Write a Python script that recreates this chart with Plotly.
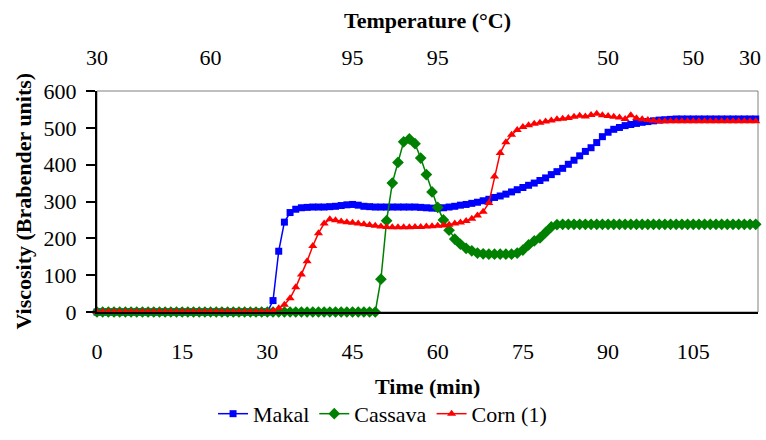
import plotly.graph_objects as go

# Time axis (min), one reading per minute
time_min = list(range(0, 117))

makal = [0, 0, 0, 0, 0, 0, 0, 0, 0, 0, 0, 0, 0, 0, 0, 0, 0, 0, 0, 0,
         0, 0, 0, 0, 0, 0, 0, 0, 0, 0, 0,
         31, 165, 244, 270, 279, 283, 284, 285, 285, 285, 286, 287, 289, 291, 292,
         290, 287, 286, 285, 285, 285, 285, 285, 285, 285, 285, 284, 283, 282, 282,
         283, 285, 287, 290, 292, 295, 298, 302, 306, 311, 315, 320, 326, 332, 338,
         344, 350, 357, 364, 373, 381, 390, 401, 412, 424, 436, 446, 460, 476, 488,
         496, 501, 506, 509, 512, 515, 517, 519, 521, 522, 523,
         524, 524, 524, 524, 524, 524, 524, 524, 524, 524, 524, 524, 524, 524, 524]

cassava = [0, 0, 0, 0, 0, 0, 0, 0, 0, 0, 0, 0, 0, 0, 0, 0, 0, 0, 0, 0,
           0, 0, 0, 0, 0, 0, 0, 0, 0, 0, 0, 0, 0, 0, 0, 0, 0, 0, 0, 0,
           0, 0, 0, 0, 0, 0, 0, 0, 0, 0,
           89, 248, 350, 406, 462, 470, 457, 418, 373, 326, 284, 250, 222, 198, 184,
           173, 166, 160, 158, 157, 157, 157, 157, 157, 160, 168, 182, 193, 201, 216,
           231, 237,
           238, 238, 238, 238, 238, 238, 238, 238, 238, 238, 238, 238, 238, 238, 238,
           238, 238, 238, 238, 238, 238, 238, 238, 238, 238, 238, 238, 238, 238, 238,
           238, 238, 238, 238, 238]

corn = [0, 0, 0, 0, 0, 0, 0, 0, 0, 0, 0, 0, 0, 0, 0, 0, 0, 0, 0, 0,
        0, 0, 0, 0, 0, 0, 0, 0, 0, 0, 0,
        3, 10, 20, 37, 67, 102, 138, 179, 214, 240, 252, 249, 246, 244, 242,
        240, 238, 236, 234, 232, 231, 230, 230, 230, 230, 231, 231, 232, 233, 234,
        235, 237, 240, 243, 247, 253, 262, 272, 296, 368, 432, 461, 481, 494, 502,
        507, 511, 514, 517, 520, 523, 525, 527, 530, 533, 531, 535, 538, 534, 532,
        530, 528, 524, 534, 526, 523, 521, 519,
        518, 518, 518, 518, 518, 518, 518, 518, 518, 518, 518, 518, 518, 518, 518,
        518, 518, 518]

time_ticks = [0, 15, 30, 45, 60, 75, 90, 105]
temp_tick_pos = [0, 20, 45, 60, 90, 105, 115]
temp_tick_text = ["30", "60", "95", "95", "50", "50", "30"]
visc_ticks = [0, 100, 200, 300, 400, 500, 600]

FONT = "Liberation Serif, Times New Roman, serif"
FS = 22

fig = go.Figure()
fig.add_trace(go.Scatter(x=time_min, y=makal, name="Makal", mode="lines+markers",
                         line=dict(color="#0000FF", width=1.5),
                         marker=dict(symbol="square", size=7, color="#0000FF"),
                         cliponaxis=False))
fig.add_trace(go.Scatter(x=time_min, y=cassava, name="Cassava", mode="lines+markers",
                         line=dict(color="#008000", width=1.5),
                         marker=dict(symbol="diamond", size=9, color="#008000"),
                         cliponaxis=False))
fig.add_trace(go.Scatter(x=time_min, y=corn, name="Corn (1)", mode="lines+markers",
                         line=dict(color="#FF0000", width=1.5),
                         marker=dict(symbol="triangle-up", size=8, color="#FF0000"),
                         cliponaxis=False))
# invisible trace to activate the top axis
fig.add_trace(go.Scatter(x=[0], y=[0], xaxis="x2", showlegend=False,
                         mode="markers", marker=dict(opacity=0), hoverinfo="skip"))

fig.update_layout(
    width=766, height=440,
    margin=dict(l=97, r=5, t=91, b=117),
    paper_bgcolor="white", plot_bgcolor="white",
    font=dict(family=FONT, size=FS, color="black"),
    showlegend=True,
    legend=dict(orientation="h", x=0.432, xanchor="center", y=-0.461, yanchor="middle",
                font=dict(family=FONT, size=FS), itemwidth=30, tracegroupgap=0,
                bgcolor="rgba(0,0,0,0)"),
    xaxis=dict(range=[0, 116.4], tickvals=time_ticks, ticks="", showgrid=False,
               zeroline=False, showline=True, linecolor="black", linewidth=2,
               ticklabelstandoff=19, tickfont=dict(size=FS)),
    xaxis2=dict(range=[0, 116.4], overlaying="x", side="top", tickvals=temp_tick_pos,
                ticktext=temp_tick_text, ticks="", showgrid=False, zeroline=False,
                showline=False, ticklabelstandoff=21, tickfont=dict(size=FS)),
    yaxis=dict(range=[0, 600], tickvals=visc_ticks, ticks="outside", ticklen=9,
               tickcolor="black", tickwidth=1.5, showgrid=False, zeroline=False,
               showline=True, linecolor="black", linewidth=2, ticklabelstandoff=5,
               tickfont=dict(size=FS)),
    shapes=[dict(type="rect", xref="paper", yref="paper", x0=0, x1=1, y0=0, y1=1,
                 line=dict(color="#808080", width=1), layer="below")],
    annotations=[
        dict(text="<b>Temperature (°C)</b>", xref="paper", yref="paper", x=0.5, y=1,
             yshift=71, xanchor="center", yanchor="middle", showarrow=False,
             font=dict(family=FONT, size=FS)),
        dict(text="<b>Time (min)</b>", xref="paper", yref="paper", x=0.5, y=0,
             yshift=-74, xanchor="center", yanchor="middle", showarrow=False,
             font=dict(family=FONT, size=FS)),
        dict(text="<b>Viscosity (Brabender units)</b>", xref="paper", yref="paper",
             x=0, y=0.5, xshift=-74, xanchor="center", yanchor="middle",
             textangle=-90, showarrow=False, font=dict(family=FONT, size=FS)),
    ],
)

fig.write_html("out.html",
               config={"displayModeBar": False},
               post_script="document.body.style.margin='0px';"
                           "document.body.style.overflow='hidden';")
